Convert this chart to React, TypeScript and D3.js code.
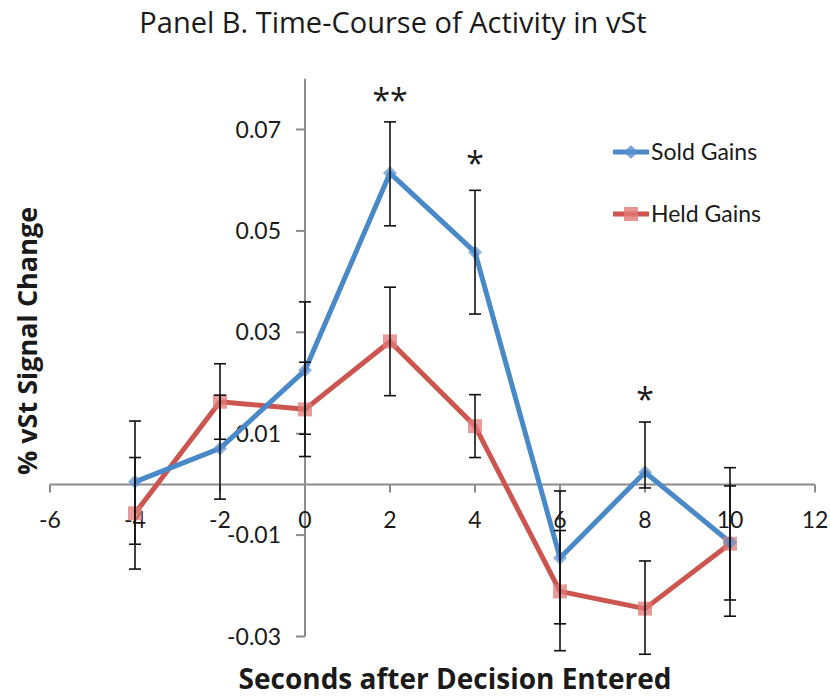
import React from "react";
import * as d3 from "d3";

const seconds = [-4, -2, 0, 2, 4, 6, 8, 10];
const soldGains = [0.0005, 0.0071, 0.0225, 0.0614, 0.0458, -0.0145, 0.0024, -0.0114];
const soldErrPlus = [0.012, 0.0105, 0.0135, 0.0101, 0.0122, 0.0132, 0.0099, 0.0147];
const soldErrMinus = [0.0123, 0.01, 0.0126, 0.0104, 0.0122, 0.013, 0.0031, 0.0146];
const heldGains = [-0.0057, 0.0163, 0.0148, 0.0282, 0.0115, -0.0211, -0.0245, -0.0117];
const heldErrPlus = [0.011, 0.0075, 0.0093, 0.0107, 0.0062, 0.012, 0.0094, 0.0114];
const heldErrMinus = [0.011, 0.0074, 0.0093, 0.0107, 0.0062, 0.0117, 0.009, 0.0111];
const xTicks = [-6, -4, -2, 0, 2, 4, 6, 8, 10, 12];
const yTicks = [-0.03, -0.01, 0.01, 0.03, 0.05, 0.07];
const starX = [2, 4, 8];
const starY = [0.0769, 0.0644, 0.018];
const starLabels = ["**", "*", "*"];

const FONT = "Lato, 'Open Sans', sans-serif";
const WIDE = "'Open Sans', Lato, sans-serif";
const BLUE = "#4A89C8";
const RED = "#CD5550";

export default function App() {
  const x = d3.scaleLinear().domain([-6, 12]).range([50, 815]);
  const y = d3.scaleLinear().domain([-0.03, 0.08]).range([636.5, 78.8]);
  const line = d3
    .line<[number, number]>()
    .x((d) => x(d[0]))
    .y((d) => y(d[1]));
  const soldPts: [number, number][] = seconds.map((s, i) => [s, soldGains[i]]);
  const heldPts: [number, number][] = seconds.map((s, i) => [s, heldGains[i]]);
  const capW = 6;

  const errBars = (vals: number[], plus: number[], minus: number[], key: string) =>
    seconds.map((s, i) => {
      const cx = x(s);
      const t = y(vals[i] + plus[i]);
      const b = y(vals[i] - minus[i]);
      return (
        <g key={key + i} stroke="#111" strokeWidth={1.6}>
          <line x1={cx} x2={cx} y1={t} y2={b} />
          <line x1={cx - capW} x2={cx + capW} y1={t} y2={t} />
          <line x1={cx - capW} x2={cx + capW} y1={b} y2={b} />
        </g>
      );
    });

  return (
    <svg
      width={830}
      height={698}
      style={{ position: "absolute", left: 0, top: 0, background: "#fff" }}
      fontFamily={FONT}
    >
      <rect width={830} height={698} fill="#fff" />
      <text x={393} y={33} textAnchor="middle" fontSize={29} fill="#1a1a1a" fontFamily={WIDE}>
        Panel B. Time-Course of Activity in vSt
      </text>

      {/* axes */}
      <line x1={x(-6)} x2={x(12)} y1={y(0)} y2={y(0)} stroke="#8c8c8c" strokeWidth={2} />
      <line x1={x(0)} x2={x(0)} y1={y(0.08)} y2={y(-0.03)} stroke="#8c8c8c" strokeWidth={2} />
      {xTicks.map((t) => (
        <g key={"xt" + t}>
          <line x1={x(t)} x2={x(t)} y1={y(0)} y2={y(0) + 8} stroke="#8c8c8c" strokeWidth={2} />
          <text x={x(t)} y={528} textAnchor="middle" fontSize={23} fill="#1a1a1a">
            {t}
          </text>
        </g>
      ))}
      {yTicks.map((t) => (
        <g key={"yt" + t}>
          <line x1={x(0) - 9} x2={x(0)} y1={y(t)} y2={y(t)} stroke="#8c8c8c" strokeWidth={2} />
          <text x={281} y={y(t)} dy="0.35em" textAnchor="end" fontSize={23} fill="#1a1a1a">
            {t.toFixed(2)}
          </text>
        </g>
      ))}

      {/* lines */}
      <path d={line(heldPts) || ""} fill="none" stroke={RED} strokeWidth={5} strokeLinejoin="round" />
      <path d={line(soldPts) || ""} fill="none" stroke={BLUE} strokeWidth={5} strokeLinejoin="round" />

      {/* markers */}
      {heldPts.map((p, i) => (
        <rect
          key={"hm" + i}
          x={x(p[0]) - 7}
          y={y(p[1]) - 7}
          width={14}
          height={14}
          fill="#E07A76"
          opacity={0.75}
        />
      ))}
      {soldPts.map((p, i) => (
        <path
          key={"sm" + i}
          d={`M${x(p[0])},${y(p[1]) - 7}L${x(p[0]) + 7},${y(p[1])}L${x(p[0])},${y(p[1]) + 7}L${x(p[0]) - 7},${y(p[1])}Z`}
          fill="#5B8FD0"
          opacity={0.7}
        />
      ))}

      {errBars(soldGains, soldErrPlus, soldErrMinus, "se")}
      {errBars(heldGains, heldErrPlus, heldErrMinus, "he")}

      {starX.map((sx, i) => (
        <text
          key={"st" + i}
          x={x(sx)}
          y={y(starY[i])}
          dy="0.55em"
          textAnchor="middle"
          fontSize={32}
          fill="#1a1a1a"
          fontFamily={WIDE}
        >
          {starLabels[i]}
        </text>
      ))}

      {/* legend */}
      <g>
        <line x1={613} x2={649} y1={152} y2={152} stroke={BLUE} strokeWidth={5} />
        <path d="M631,145L638,152L631,159L624,152Z" fill="#5B8FD0" opacity={0.8} />
        <text x={651} y={152} dy="0.35em" fontSize={23} fill="#1a1a1a">
          Sold Gains
        </text>
        <line x1={613} x2={649} y1={214} y2={214} stroke={RED} strokeWidth={5} />
        <rect x={624} y={207} width={14} height={14} fill="#E07A76" opacity={0.8} />
        <text x={651} y={214} dy="0.35em" fontSize={23} fill="#1a1a1a">
          Held Gains
        </text>
      </g>

      <text
        x={455}
        y={689}
        textAnchor="middle"
        fontSize={28}
        fontWeight="bold"
        fill="#1a1a1a"
        fontFamily={WIDE}
      >
        Seconds after Decision Entered
      </text>
      <text
        transform="translate(37,341) rotate(-90)"
        textAnchor="middle"
        fontSize={27}
        fontWeight="bold"
        fill="#1a1a1a"
        fontFamily={WIDE}
      >
        % vSt Signal Change
      </text>
    </svg>
  );
}
